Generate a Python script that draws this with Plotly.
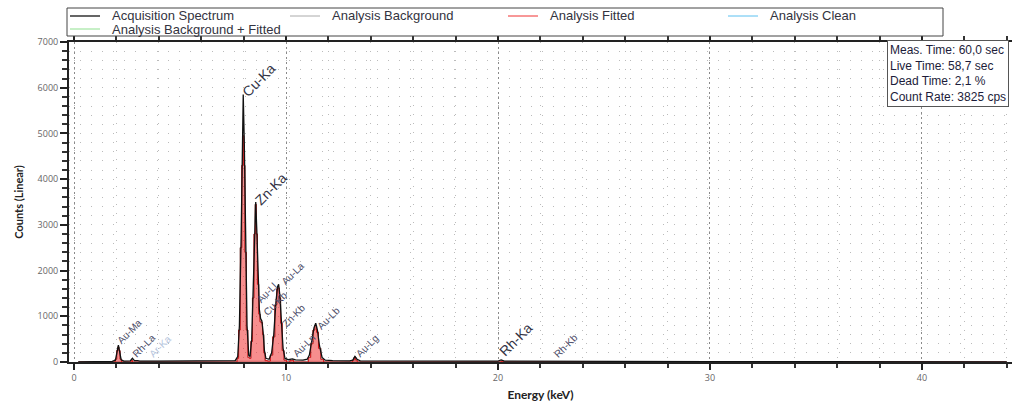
import plotly.graph_objects as go

# ---------------- data ----------------
acq_energy = [0.2, 0.5, 1.0, 1.8, 1.95, 2.02, 2.09, 2.15, 2.22, 2.35, 2.65, 2.75, 2.85, 3.0, 3.1,
              4.0, 5.0, 6.0, 7.0, 7.6, 7.72, 7.8, 7.88, 7.94, 7.98, 8.03, 8.09, 8.16, 8.24, 8.30,
              8.38, 8.45, 8.52, 8.57, 8.62, 8.68, 8.74, 8.80, 8.86, 8.92, 8.98, 9.05, 9.2, 9.32,
              9.42, 9.52, 9.60, 9.65, 9.71, 9.78, 9.86, 9.95, 10.1, 10.3, 10.45, 10.8, 11.0, 11.1,
              11.22, 11.32, 11.40, 11.48, 11.58, 11.7, 11.85, 12.2, 13.0, 13.15, 13.25, 13.35, 13.5,
              15.0, 17.0, 19.0, 20.0, 20.15, 20.3, 22.5, 22.7, 22.9, 25.0, 30.0, 35.0, 40.0, 44.0]
acq_counts = [0, 5, 10, 15, 40, 200, 370, 220, 50, 20, 25, 80, 30, 30, 20,
              20, 20, 20, 25, 30, 120, 800, 2700, 4800, 5850, 4800, 2600, 800, 150, 120,
              500, 1500, 2900, 3500, 2900, 1800, 1150, 950, 900, 650, 250, 80, 60, 200,
              600, 1300, 1650, 1700, 1450, 900, 300, 80, 50, 70, 45, 40, 60, 150,
              450, 750, 850, 700, 350, 100, 40, 30, 25, 40, 120, 60, 25,
              20, 20, 20, 20, 45, 20, 15, 25, 15, 12, 10, 8, 5, 3]

fit_energy = [0.2, 1.9, 1.98, 2.04, 2.09, 2.14, 2.2, 2.28, 2.65, 2.72, 2.8, 7.65, 7.72, 7.8, 7.88,
              7.94, 7.98, 8.03, 8.09, 8.16, 8.24, 8.30, 8.38, 8.45, 8.52, 8.57, 8.62, 8.68, 8.74,
              8.80, 8.86, 8.92, 8.98, 9.05, 9.2, 9.32, 9.42, 9.52, 9.60, 9.65, 9.71, 9.78, 9.86,
              9.95, 10.1, 10.25, 10.32, 10.4, 11.0, 11.1, 11.22, 11.32, 11.40, 11.48, 11.58, 11.7,
              11.85, 13.1, 13.18, 13.25, 13.32, 13.4, 20.1, 20.2, 20.3, 44.0]
fit_counts = [0, 0, 60, 250, 330, 250, 60, 0, 0, 40, 0, 0, 80, 700, 2500,
              4300, 4950, 4300, 2400, 700, 100, 80, 450, 1400, 2800, 3450, 2800, 1700, 1050,
              880, 860, 600, 200, 30, 20, 150, 550, 1250, 1600, 1620, 1400, 850, 250,
              40, 0, 30, 40, 0, 0, 100, 400, 700, 800, 650, 300, 60,
              0, 0, 40, 110, 40, 0, 0, 20, 0, 0]

bg_energy = [0.2, 1.0, 2.0, 3.0, 5.0, 8.0, 10.0, 15.0, 20.0, 30.0, 40.0, 44.0]
bg_counts = [0, 8, 15, 18, 18, 18, 18, 15, 12, 8, 4, 3]

peak_names = ["Cu-Ka", "Zn-Ka", "Rh-Ka", "Au-Ma", "Rh-La", "Ar-Ka", "Au-Ll", "Cu-Kb",
              "Au-La", "Zn-Kb", "Au-Ln", "Au-Lb", "Au-Lg", "Rh-Kb"]
peak_label_x = [7.65, 8.25, 19.8, 1.8, 2.52, 3.3, 8.4, 8.7, 9.55, 9.58, 10.1, 11.22, 13.08, 22.4]
peak_label_y = [5670, 3300, 0, 280, 0, 0, 1200, 910, 1590, 650, 0, 600, 0, 0]
peak_major = [True, True, True, False, False, False, False, False, False, False, False, False, False, False]
peak_faded = [False, False, False, False, False, True, False, False, False, False, False, False, False, False]

stats_lines = ["Meas. Time: 60,0 sec", "Live Time: 58,7 sec", "Dead Time: 2,1 %", "Count Rate: 3825 cps"]

x_ticks = [0, 10, 20, 30, 40]
y_ticks = [0, 1000, 2000, 3000, 4000, 5000, 6000, 7000]

series_names = ["Acquisition Spectrum", "Analysis Background", "Analysis Fitted",
                "Analysis Clean", "Analysis Background + Fitted"]
series_colors = {"Acquisition Spectrum": "#111111", "Analysis Background": "#aaaaaa",
                 "Analysis Fitted": "#f03030", "Analysis Clean": "#5bc0f0",
                 "Analysis Background + Fitted": "#8fe08f"}

# ---------------- layout geometry (pixels) ----------------
W, H = 1017, 405
ML, MR, MT, MB = 69, 5, 42, 43
PW, PH = W - ML - MR, H - MT - MB


def px(xp):
    return (xp - ML) / PW


def py(yp):
    return (H - MB - yp) / PH


# ---------------- figure ----------------
fig = go.Figure()

fig.add_trace(go.Scatter(x=fit_energy, y=fit_counts, mode="lines", name=series_names[4], showlegend=False,
                         line=dict(color=series_colors[series_names[4]], width=1, shape="hvh")))
fig.add_trace(go.Scatter(x=fit_energy, y=fit_counts, mode="lines", name=series_names[3], showlegend=False,
                         line=dict(color=series_colors[series_names[3]], width=1, shape="hvh")))
fig.add_trace(go.Scatter(x=bg_energy, y=bg_counts, mode="lines", name=series_names[1], showlegend=False,
                         line=dict(color=series_colors[series_names[1]], width=1)))
fig.add_trace(go.Scatter(x=fit_energy, y=fit_counts, mode="lines", name=series_names[2], showlegend=False,
                         line=dict(color="#e01010", width=1, shape="hvh"),
                         fill="tozeroy", fillcolor="rgba(240,50,50,0.55)"))
fig.add_trace(go.Scatter(x=acq_energy, y=acq_counts, mode="lines", name=series_names[0], showlegend=False,
                         line=dict(color=series_colors[series_names[0]], width=1.3)))

# peak labels
for name, lx, ly, major, faded in zip(peak_names, peak_label_x, peak_label_y, peak_major, peak_faded):
    fig.add_annotation(x=lx, y=ly, xref="x", yref="y", text=name, showarrow=False,
                       textangle=-45, xanchor="left", yanchor="bottom",
                       font=dict(family="Liberation Sans, Arial", size=14 if major else 10,
                                 color="#b4c4dc" if faded else ("#333344" if major else "#4a4a66")))

# legend box (drawn as layout decoration)
fig.add_shape(type="rect", xref="paper", yref="paper", x0=px(67), x1=px(943), y0=py(36), y1=py(8),
              line=dict(color="#444444", width=1), fillcolor="white", layer="above")
legend_pos = [(70, 16), (290, 16), (508, 16), (728, 16), (70, 29)]
for name, (lx, ly) in zip(series_names, legend_pos):
    fig.add_shape(type="line", xref="paper", yref="paper", x0=px(lx), x1=px(lx + 30), y0=py(ly), y1=py(ly),
                  line=dict(color=series_colors[name], width=1.3 if name == series_names[0] else 1),
                  layer="above")
    fig.add_annotation(x=px(lx + 40), y=py(ly), xref="paper", yref="paper", text=name, showarrow=False,
                       xanchor="left", yanchor="middle",
                       font=dict(family="Liberation Sans, Arial", size=13, color="#333340"))

# stats box
fig.add_annotation(x=px(887), y=py(40), xref="paper", yref="paper", xanchor="left", yanchor="top",
                   text="<br>".join(stats_lines), showarrow=False, align="left",
                   font=dict(family="Liberation Sans, Arial", size=12, color="#1c1c3a"),
                   bgcolor="white", bordercolor="#555555", borderwidth=1, borderpad=2)

tickfont = dict(family="Open Sans, Noto Sans", size=9, color="#666666")

fig.update_layout(
    width=W, height=H,
    margin=dict(l=ML, r=MR, t=MT, b=MB, autoexpand=False),
    paper_bgcolor="white", plot_bgcolor="white",
    showlegend=False,
    xaxis=dict(range=[-0.24, 44.25], tickvals=x_ticks, ticktext=[str(v) for v in x_ticks],
               automargin=False,
               showline=True, linecolor="#222222", linewidth=2, mirror="ticks",
               ticks="outside", ticklen=6, tickcolor="#222222", tickwidth=1.5,
               tickfont=tickfont, zeroline=False,
               showgrid=True, gridcolor="#8a8a8a", griddash="2px,3px", gridwidth=1,
               minor=dict(dtick=2, tick0=0, ticks="outside", ticklen=4, tickcolor="#333333",
                          showgrid=True, gridcolor="#bbbbbb", griddash="1px,8px", gridwidth=1),
               title=dict(text="<b>Energy (keV)</b>", standoff=8,
                          font=dict(family="Lato, Noto Sans", size=12, color="#222222"))),
    yaxis=dict(range=[0, 7000], tickvals=y_ticks, ticktext=[str(v) for v in y_ticks],
               automargin=False,
               showline=True, linecolor="#222222", linewidth=2,
               ticks="outside", ticklen=7, tickcolor="#222222", tickwidth=1.5,
               tickfont=tickfont, zeroline=False,
               showgrid=True, gridcolor="#bbbbbb", griddash="1px,10px", gridwidth=1,
               minor=dict(dtick=200, tick0=0, ticks="outside", ticklen=5, tickcolor="#333333",
                          showgrid=True, gridcolor="#bbbbbb", griddash="1px,10px", gridwidth=1),
               title=dict(text="<b>Counts (Linear)</b>", standoff=12,
                          font=dict(family="Lato, Noto Sans", size=11, color="#222222"))),
    yaxis2=dict(range=[0, 7000], overlaying="y", side="left", showgrid=False, zeroline=False,
                automargin=False,
                showticklabels=False, tickvals=y_ticks, ticks="inside", ticklen=6,
                tickcolor="#222222", tickwidth=1.5,
                minor=dict(dtick=200, tick0=0, ticks="inside", ticklen=4, tickcolor="#333333")),
)

fig.write_html("out.html", config={"displayModeBar": False},
               post_script="document.body.style.margin='0';document.body.style.padding='0';")
